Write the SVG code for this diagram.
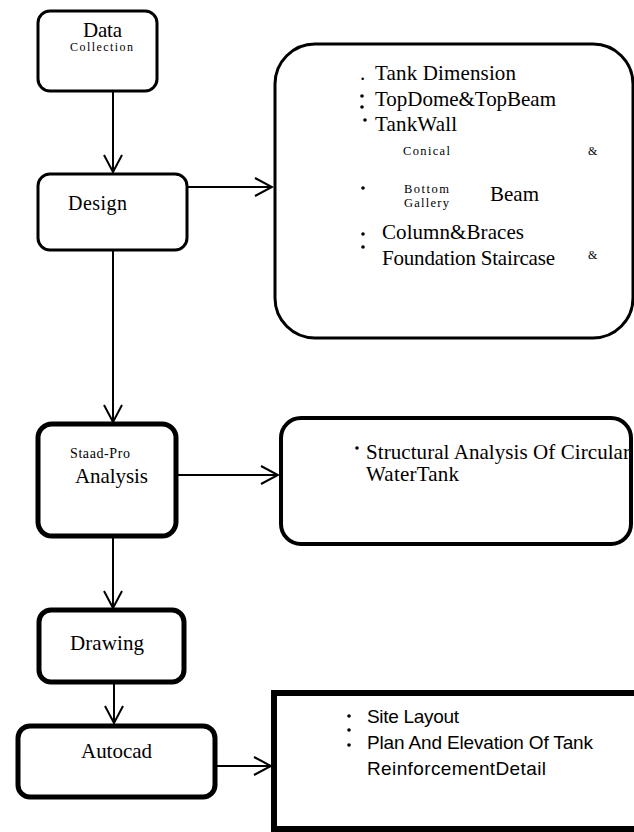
<svg xmlns="http://www.w3.org/2000/svg" width="634" height="832" viewBox="0 0 634 832">
<style>
.box{fill:#fff;stroke:#000}
.t{font-family:"Liberation Serif","Times New Roman",serif;fill:#000}
.s{font-family:"Liberation Sans",Arial,sans-serif;fill:#000}
.c{stroke:#000;stroke-width:2;fill:none}
.dot{fill:#000}
</style>
<defs>
<marker id="ah" viewBox="0 0 20 20" refX="18" refY="10" markerWidth="20" markerHeight="20" markerUnits="userSpaceOnUse" orient="auto">
<path d="M1,1 L18,10 L1,19" fill="none" stroke="#000" stroke-width="2"/>
</marker>
</defs>
<g id="connectors">
<line class="c" x1="113" y1="91" x2="113" y2="172" marker-end="url(#ah)"/>
<line class="c" x1="113" y1="250" x2="113" y2="422" marker-end="url(#ah)"/>
<line class="c" x1="113" y1="536" x2="113" y2="608" marker-end="url(#ah)"/>
<line class="c" x1="114" y1="682" x2="114" y2="723" marker-end="url(#ah)"/>
<line class="c" x1="187" y1="187" x2="272" y2="187" marker-end="url(#ah)"/>
<line class="c" x1="176" y1="475" x2="278" y2="475" marker-end="url(#ah)"/>
<line class="c" x1="215" y1="766" x2="271" y2="766" marker-end="url(#ah)"/>
</g>
<g id="data">
<rect class="box" x="38" y="11" width="119" height="80" rx="12" stroke-width="3"/>
<text class="t" x="83" y="37" font-size="21" textLength="39">Data</text>
<text class="t" x="70" y="51" font-size="12" textLength="63">Collection</text>
</g>
<g id="design">
<rect class="box" x="38" y="174" width="149" height="76" rx="12" stroke-width="3"/>
<text class="t" x="68" y="210" font-size="20" textLength="59">Design</text>
</g>
<g id="design-items">
<rect class="box" x="275" y="44" width="358" height="294" rx="40" stroke-width="3"/>
<text class="t" x="360" y="80" font-size="21">.</text>
<text class="t" x="375" y="80" font-size="21" textLength="141">Tank Dimension</text>
<circle class="dot" cx="362" cy="96" r="1.8"/>
<circle class="dot" cx="362" cy="107" r="1.8"/>
<text class="t" x="375" y="106" font-size="21" textLength="181">TopDome&amp;TopBeam</text>
<circle class="dot" cx="365" cy="120" r="1.8"/>
<text class="t" x="375" y="131" font-size="21" textLength="82">TankWall</text>
<text class="t" x="403" y="155" font-size="12.5" textLength="47">Conical</text>
<text class="t" x="588" y="155" font-size="12">&amp;</text>
<circle class="dot" cx="363" cy="188" r="1.8"/>
<text class="t" x="404" y="193" font-size="12.5" textLength="45">Bottom</text>
<text class="t" x="404" y="207" font-size="12.5" textLength="45">Gallery</text>
<text class="t" x="490" y="201" font-size="21" textLength="49">Beam</text>
<circle class="dot" cx="363" cy="234" r="1.8"/>
<text class="t" x="382" y="239" font-size="21" textLength="142">Column&amp;Braces</text>
<circle class="dot" cx="363" cy="247" r="1.8"/>
<text class="t" x="382" y="265" font-size="21" textLength="173">Foundation Staircase</text>
<text class="t" x="588" y="259" font-size="12">&amp;</text>
</g>
<g id="analysis">
<rect class="box" x="38" y="424" width="138" height="112" rx="14" stroke-width="5"/>
<text class="t" x="70" y="458" font-size="14" textLength="60">Staad-Pro</text>
<text class="t" x="75" y="483" font-size="21" textLength="73">Analysis</text>
</g>
<g id="analysis-items">
<rect class="box" x="281" y="418" width="350" height="126" rx="20" stroke-width="4"/>
<circle class="dot" cx="357" cy="448" r="1.8"/>
<text class="t" x="366" y="459" font-size="21" textLength="264">Structural Analysis Of Circular</text>
<text class="t" x="366" y="481" font-size="21" textLength="93">WaterTank</text>
</g>
<g id="drawing">
<rect class="box" x="39" y="610" width="145" height="72" rx="12" stroke-width="5"/>
<text class="t" x="70" y="650" font-size="21" textLength="74">Drawing</text>
</g>
<g id="autocad">
<rect class="box" x="18" y="726" width="197" height="71" rx="12" stroke-width="5"/>
<text class="t" x="81" y="758" font-size="21" textLength="71">Autocad</text>
</g>
<g id="autocad-items">
<rect class="box" x="274" y="693" width="380" height="136" stroke-width="6"/>
<circle class="dot" cx="349" cy="716" r="1.8"/>
<circle class="dot" cx="349" cy="730" r="1.8"/>
<circle class="dot" cx="349" cy="745" r="1.8"/>
<text class="s" x="367" y="723" font-size="19" textLength="92">Site Layout</text>
<text class="s" x="367" y="749" font-size="19" textLength="226">Plan And Elevation Of Tank</text>
<text class="s" x="367" y="775" font-size="19" textLength="179">ReinforcementDetail</text>
</g>
</svg>
